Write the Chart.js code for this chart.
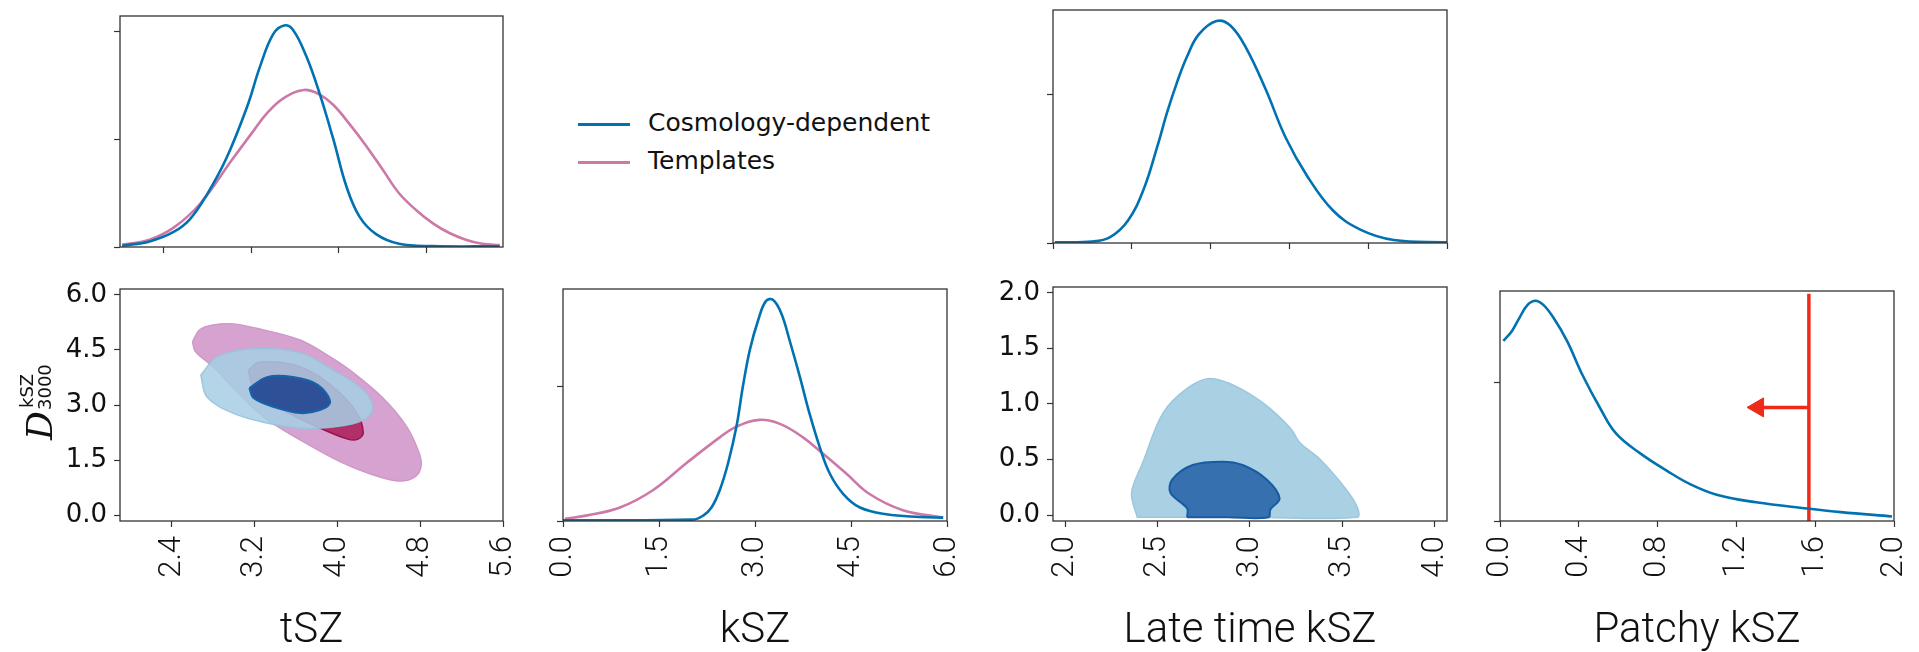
<!DOCTYPE html>
<html lang="en">
<head>
  <meta charset="UTF-8" />
  <title>SZ posteriors</title>
  <script src="https://cdn.jsdelivr.net/npm/chart.js"></script>
  <style>
    body {
      margin: 0;
      width: 1919px;
      height: 652px;
      background: #fff;
      position: relative;
      overflow: hidden;
      font-family: "DejaVu Sans", sans-serif;
    }

    canvas.panel {
      position: absolute;
    }

    .legend {
      position: absolute;
      left: 578px;
      top: 104px;
      font-size: 25px;
      line-height: 38px;
      color: #111;
    }

    .legend span {
      display: inline-block;
      width: 52px;
      height: 3px;
      margin-right: 18px;
      vertical-align: middle;
    }
  </style>
</head>
<body>

  <div class="legend">
    <div><span style="background:#0072b2;"></span>Cosmology-dependent</div>
    <div><span style="background:#cc79a7;"></span>Templates</div>
  </div>

  <script>
    // --- 1D marginals ---
    const tszCosmoX = [2.02, 2.27, 2.49, 2.64, 2.79, 2.97, 3.16, 3.28, 3.40, 3.50, 3.58, 3.70, 3.82, 3.95, 4.07, 4.19, 4.34, 4.55, 4.86, 5.47];
    const tszCosmoY = [0.006, 0.026, 0.07, 0.13, 0.24, 0.41, 0.65, 0.84, 0.99, 1.03, 1.01, 0.89, 0.72, 0.50, 0.28, 0.14, 0.06, 0.015, 0.004, 0.003];
    const tszTemplX = [2.02, 2.27, 2.49, 2.73, 3.03, 3.22, 3.34, 3.49, 3.68, 3.82, 3.95, 4.10, 4.25, 4.40, 4.55, 4.71, 4.86, 5.01, 5.16, 5.31, 5.47];
    const tszTemplY = [0.011, 0.034, 0.09, 0.20, 0.41, 0.54, 0.62, 0.69, 0.73, 0.71, 0.66, 0.57, 0.47, 0.36, 0.25, 0.17, 0.11, 0.065, 0.034, 0.015, 0.009];

    const kszCosmoX = [0.0, 2.03, 2.19, 2.32, 2.45, 2.58, 2.71, 2.81, 2.92, 3.05, 3.17, 3.28, 3.41, 3.54, 3.70, 3.85, 4.01, 4.17, 4.38, 4.64, 5.05, 5.57, 5.94];
    const kszCosmoY = [0.005, 0.01, 0.04, 0.10, 0.23, 0.43, 0.70, 0.995, 1.27, 1.49, 1.63, 1.64, 1.54, 1.34, 1.07, 0.80, 0.55, 0.35, 0.20, 0.10, 0.05, 0.03, 0.025];
    const kszTemplX = [0.03, 0.36, 0.89, 1.41, 1.93, 2.45, 2.71, 3.07, 3.39, 3.75, 4.06, 4.43, 4.79, 5.31, 5.94];
    const kszTemplY = [0.017, 0.04, 0.10, 0.23, 0.43, 0.62, 0.70, 0.75, 0.72, 0.62, 0.50, 0.35, 0.20, 0.08, 0.025];

    const lateX = [2.01, 2.20, 2.29, 2.38, 2.46, 2.53, 2.58, 2.63, 2.68, 2.74, 2.83, 2.90, 2.98, 3.08, 3.18, 3.29, 3.42, 3.56, 3.73, 4.0];
    const lateY = [0.004, 0.01, 0.04, 0.15, 0.36, 0.65, 0.88, 1.08, 1.25, 1.40, 1.49, 1.46, 1.31, 1.03, 0.71, 0.45, 0.22, 0.09, 0.02, 0.004];

    const patchyX = [0.017, 0.06, 0.10, 0.14, 0.18, 0.22, 0.27, 0.34, 0.42, 0.51, 0.59, 0.71, 0.85, 0.96, 1.10, 1.30, 1.56, 1.73, 1.99];
    const patchyY = [1.30, 1.37, 1.47, 1.56, 1.59, 1.56, 1.47, 1.30, 1.05, 0.81, 0.63, 0.49, 0.36, 0.27, 0.19, 0.135, 0.09, 0.064, 0.033];
    const patchyLimit = 1.568;
    const arrowY = 0.82;
    const arrowTipX = 1.31;

    // --- 2D contours: tSZ vs kSZ ---
    const templOuterX = [2.60, 2.67, 2.80, 2.99, 3.25, 3.64, 3.93, 4.12, 4.44, 4.66, 4.78, 4.81, 4.75, 4.59, 4.32, 4.03, 3.64, 3.30, 3.06, 2.80, 2.63, 2.60];
    const templOuterY = [4.72, 5.05, 5.18, 5.21, 5.07, 4.77, 4.31, 3.95, 3.19, 2.45, 1.77, 1.36, 1.04, 0.93, 1.12, 1.45, 2.05, 2.65, 3.27, 4.04, 4.45, 4.72];
    const templInnerX = [3.14, 3.25, 3.64, 3.96, 4.19, 4.25, 4.20, 4.10, 3.81, 3.48, 3.19, 3.14];
    const templInnerY = [3.95, 4.17, 4.04, 3.49, 2.78, 2.24, 2.07, 2.07, 2.40, 2.86, 3.49, 3.95];
    const cosmoOuterX = [2.68, 2.84, 3.19, 3.64, 3.96, 4.25, 4.34, 4.25, 3.96, 3.64, 3.32, 2.99, 2.74, 2.68];
    const cosmoOuterY = [3.82, 4.31, 4.53, 4.42, 3.95, 3.41, 2.92, 2.59, 2.40, 2.37, 2.51, 2.78, 3.22, 3.82];
    const cosmoInnerX = [3.15, 3.32, 3.57, 3.81, 3.93, 3.83, 3.64, 3.38, 3.19, 3.15];
    const cosmoInnerY = [3.46, 3.76, 3.76, 3.55, 3.08, 2.86, 2.78, 2.95, 3.19, 3.46];

    // --- 2D contours: late time kSZ vs patchy kSZ ---
    const lpOuterX = [2.39, 2.36, 2.42, 2.53, 2.66, 2.78, 2.91, 3.07, 3.22, 3.27, 3.38, 3.52, 3.58, 3.58, 3.0, 2.39];
    const lpOuterY = [-0.02, 0.20, 0.47, 0.92, 1.14, 1.23, 1.17, 1.01, 0.78, 0.65, 0.50, 0.23, 0.07, -0.02, -0.02, -0.02];
    const lpInnerX = [2.66, 2.66, 2.57, 2.58, 2.69, 2.85, 2.96, 3.09, 3.16, 3.11, 3.10, 2.88, 2.66];
    const lpInnerY = [-0.02, 0.06, 0.20, 0.32, 0.45, 0.48, 0.45, 0.32, 0.15, 0.05, -0.02, -0.02, -0.02];

    const COSMO = '#0072b2';
    const TEMPL = '#cc79a7';
    const RED = '#ee2a1b';

    const pts = (xs, ys) => xs.map((x, i) => ({ x: x, y: ys[i] }));

    function curve(xs, ys, color) {
      return {
        data: pts(xs, ys), showLine: true, borderColor: color, borderWidth: 2.6,
        pointRadius: 0, tension: 0.4, fill: false
      };
    }

    function region(xs, ys, fillColor, lineColor, lw, order) {
      return {
        data: pts(xs, ys), showLine: true, borderColor: lineColor, borderWidth: lw,
        backgroundColor: fillColor, pointRadius: 0, tension: 0.35, fill: 'shape', order: order
      };
    }

    // box around every axes
    const frame = {
      id: 'frame',
      afterDraw(chart) {
        const { ctx, chartArea: a } = chart;
        ctx.save();
        ctx.strokeStyle = '#333';
        ctx.lineWidth = 1.3;
        ctx.strokeRect(a.left, a.top, a.right - a.left, a.bottom - a.top);
        ctx.restore();
      }
    };

    function axis(cfg, size, horiz) {
      return {
        type: 'linear',
        min: cfg.min,
        max: cfg.max,
        afterBuildTicks: s => { s.ticks = cfg.ticks.map(v => ({ value: v })); },
        afterFit: s => {
          if (horiz) s.height = size; else s.width = size;
          // keep the plot box where it is, labels may spill into the margin
          s.paddingLeft = 0; s.paddingRight = 0; s.paddingTop = 0; s.paddingBottom = 0;
        },
        border: { display: false },
        grid: { drawOnChartArea: false, drawTicks: true, tickLength: 6, tickColor: '#333', tickWidth: 1.2 },
        ticks: {
          display: !!cfg.labels,
          autoSkip: false,
          minRotation: horiz ? 90 : 0,
          maxRotation: horiz ? 90 : 0,
          padding: horiz ? 9 : 7,
          color: '#111',
          font: horiz ? { family: 'Roboto', weight: 300, size: 31 } : { family: 'DejaVu Sans', size: 26 },
          callback: v => v.toFixed(1)
        },
        title: cfg.title
          ? { display: true, text: cfg.title, color: '#111', font: { family: 'Roboto', weight: 300, size: 42, lineHeight: 1 }, padding: { top: 0, bottom: 0 } }
          : { display: false }
      };
    }

    function panel(box, pad, xCfg, yCfg, datasets, extra) {
      const c = document.createElement('canvas');
      const w = box.r - box.l + pad.l + pad.r;
      const h = box.b - box.t + pad.t + pad.b;
      c.className = 'panel';
      c.width = w;
      c.height = h;
      c.style.left = (box.l - pad.l) + 'px';
      c.style.top = (box.t - pad.t) + 'px';
      c.style.width = w + 'px';
      c.style.height = h + 'px';
      document.body.appendChild(c);
      return new Chart(c, {
        type: 'scatter',
        data: { datasets: datasets },
        options: {
          responsive: false,
          animation: false,
          layout: { padding: { top: pad.t, right: pad.r, left: 0, bottom: 0 } },
          plugins: { legend: { display: false }, tooltip: { enabled: false } },
          scales: { x: axis(xCfg, pad.b, true), y: axis(yCfg, pad.l, false) }
        },
        plugins: [frame].concat(extra || [])
      });
    }

    // D^{kSZ}_{3000} label, rotated
    const kszLabel = {
      id: 'kszLabel',
      afterDraw(chart) {
        const ctx = chart.ctx;
        ctx.save();
        ctx.translate(44, 127);
        ctx.rotate(-Math.PI / 2);
        ctx.fillStyle = '#111';
        ctx.textAlign = 'left';
        ctx.textBaseline = 'alphabetic';
        ctx.font = 'italic 36px "DejaVu Serif"';
        ctx.fillText('D', -32, 8);
        ctx.font = '18px "DejaVu Sans"';
        ctx.fillText('kSZ', 0, -11);
        ctx.fillText('3000', -2, 7);
        ctx.restore();
      }
    };

    // top row
    panel({ l: 120, t: 16, r: 503, b: 247 }, { l: 20, t: 8, r: 10, b: 10 },
      { min: 2.0, max: 5.5, ticks: [2.4, 3.2, 4.0, 4.8] },
      { min: 0, max: 1.074, ticks: [0, 0.5, 1.0] },
      [curve(tszCosmoX, tszCosmoY, COSMO), curve(tszTemplX, tszTemplY, TEMPL)]);

    panel({ l: 1053, t: 10, r: 1447, b: 243 }, { l: 20, t: 8, r: 10, b: 10 },
      { min: 2.0, max: 4.0, ticks: [2.0, 2.4, 2.8, 3.2, 3.6, 4.0] },
      { min: 0, max: 1.564, ticks: [0, 1] },
      [curve(lateX, lateY, COSMO)]);

    // bottom row
    panel({ l: 120, t: 289, r: 503, b: 521 }, { l: 120, t: 8, r: 30, b: 131 },
      { min: 1.9, max: 5.6, ticks: [2.4, 3.2, 4.0, 4.8, 5.6], labels: true, title: 'tSZ' },
      { min: -0.16, max: 6.16, ticks: [0, 1.5, 3.0, 4.5, 6.0], labels: true },
      [
        region(cosmoInnerX, cosmoInnerY, '#2d5096', '#1663ad', 2, 1),
        region(cosmoOuterX, cosmoOuterY, 'rgba(166,206,227,0.86)', 'rgba(150,196,222,0.9)', 1.5, 2),
        region(templInnerX, templInnerY, '#b1306a', '#a0104f', 1.5, 3),
        region(templOuterX, templOuterY, '#d6a3d0', '#cf98c8', 1.5, 4)
      ], [kszLabel]);

    panel({ l: 563, t: 289, r: 947, b: 521 }, { l: 30, t: 8, r: 30, b: 131 },
      { min: 0, max: 6, ticks: [0, 1.5, 3.0, 4.5, 6.0], labels: true, title: 'kSZ' },
      { min: 0, max: 1.72, ticks: [0, 1] },
      [curve(kszCosmoX, kszCosmoY, COSMO), curve(kszTemplX, kszTemplY, TEMPL)]);

    panel({ l: 1053, t: 287, r: 1447, b: 521 }, { l: 90, t: 8, r: 25, b: 131 },
      { min: 1.935, max: 4.065, ticks: [2.0, 2.5, 3.0, 3.5, 4.0], labels: true, title: 'Late time kSZ' },
      { min: -0.054, max: 2.054, ticks: [0, 0.5, 1.0, 1.5, 2.0], labels: true },
      [
        region(lpInnerX, lpInnerY, '#3670ae', '#1a5aa3', 2, 1),
        region(lpOuterX, lpOuterY, '#a9d0e3', '#9cc7df', 1.5, 2)
      ]);

    panel({ l: 1500, t: 287, r: 1894, b: 521 }, { l: 30, t: 8, r: 24, b: 131 },
      { min: 0, max: 2, ticks: [0, 0.4, 0.8, 1.2, 1.6, 2.0], labels: true, title: 'Patchy kSZ' },
      { min: 0, max: 1.66, ticks: [0, 1] },
      [
        curve(patchyX, patchyY, COSMO),
        { data: [{ x: patchyLimit, y: 0 }, { x: patchyLimit, y: 1.64 }], showLine: true, borderColor: RED, borderWidth: 3.5, pointRadius: 0 },
        { data: [{ x: patchyLimit, y: arrowY }, { x: arrowTipX, y: arrowY }], showLine: true, borderColor: RED, borderWidth: 3.5, pointRadius: 0 },
        { data: [{ x: arrowTipX, y: arrowY }], showLine: false, pointStyle: 'triangle', rotation: -90, pointRadius: 11, backgroundColor: RED, borderColor: RED, borderWidth: 1 }
      ]);
  </script>
</body>
</html>
